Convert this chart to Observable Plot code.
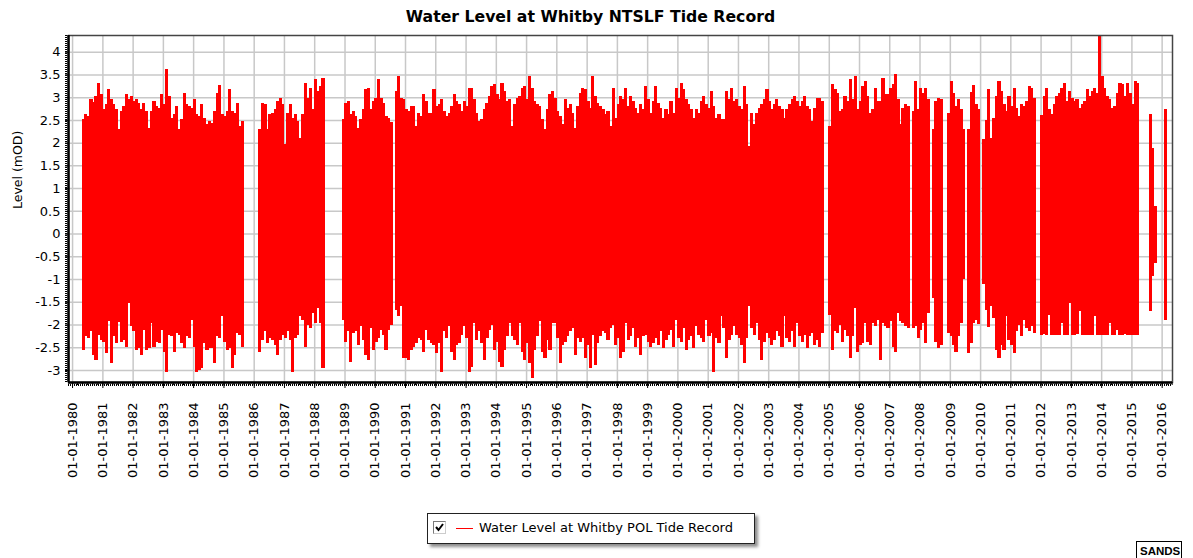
<!DOCTYPE html>
<html><head><meta charset="utf-8">
<script src="https://cdn.jsdelivr.net/npm/d3@7"></script>
<script src="https://cdn.jsdelivr.net/npm/@observablehq/plot@0.6"></script>
<style>
html,body{margin:0;padding:0;background:#fff;}
body{width:1193px;height:558px;position:relative;overflow:hidden;font-family:"DejaVu Sans",sans-serif;}
#title{position:absolute;left:0;top:7px;width:1181px;text-align:center;font:bold 15.7px "DejaVu Sans",sans-serif;color:#000;line-height:20px;}
#chart{position:absolute;left:0;top:30px;}
#legend{position:absolute;left:427px;top:513px;width:326px;height:29px;border:1px solid #222;background:#fff;box-shadow:3px 3px 3px rgba(0,0,0,0.45);}
#legend .cb{position:absolute;left:5px;top:7px;width:13px;height:13px;border:1px solid #7a7a7a;border-right-color:#ccc;border-bottom-color:#ccc;background:#fff;box-sizing:border-box;}
#legend .cb svg{display:block;position:absolute;left:0;top:0;}
#legend .ln{position:absolute;left:28px;top:14px;width:17px;height:0;border-top:1.5px solid #ff0000;}
#legend .tx{position:absolute;left:51px;top:6px;font:13px "DejaVu Sans",sans-serif;color:#000;white-space:nowrap;}
#sands{position:absolute;left:1136px;top:541px;width:46px;height:24px;border:1px solid #000;font:bold 11.5px "Liberation Sans",Arial,sans-serif;padding:3px 0 0 3px;box-sizing:border-box;color:#000;}
</style></head><body>
<div id="title">Water Level at Whitby NTSLF Tide Record</div>
<div id="chart"></div>
<div id="legend"><div class="cb"><svg width="11" height="11" viewBox="0 0 11 11"><path d="M2 5 L4.5 8 L9 2" fill="none" stroke="#000" stroke-width="2"/></svg></div><div class="ln"></div><div class="tx">Water Level at Whitby POL Tide Record</div></div>
<div id="sands">SANDS</div>
<script>
// Axis ticks
const years = [1980,1981,1982,1983,1984,1985,1986,1987,1988,1989,1990,1991,1992,1993,1994,1995,1996,1997,1998,1999,2000,2001,2002,2003,2004,2005,2006,2007,2008,2009,2010,2011,2012,2013,2014,2015,2016];
const yTicks = [-3,-2.5,-2,-1.5,-1,-0.5,0,0.5,1,1.5,2,2.5,3,3.5,4];

// Monthly high / low water level (mOD), per continuous record segment
const segStarts = ["1980-05","1986-03","1988-12","1990-09","2005-01","2007-10","2008-06","2008-12","2009-08","2010-02","2010-05","2012-01","2015-08","2016-02"];

const high1 = [2.53,2.63,2.58,2.96,2.90,3.03,3.31,3.07,2.74,2.85,3.18,2.96,2.85,2.74,2.29,2.70,2.81,3.07,2.96,3.03,2.92,2.96,2.88,2.74,2.88,2.70,2.33,2.70,2.92,2.81,2.77,3.07,2.85,3.63,3.03,2.55,2.62,2.81,2.29,2.51,3.10,2.85,2.80,2.77,2.96,2.63,2.58,2.85,2.55,2.40,2.47,2.44,2.70,3.10,3.26,2.63,2.58,2.70,3.18,2.70,2.66,2.88,2.37,2.48];
const low1 = [-2.56,-2.26,-2.30,-2.15,-2.67,-2.78,-2.23,-2.34,-2.38,-2.63,-1.93,-2.85,-2.26,-2.41,-1.95,-2.38,-2.34,-2.49,-1.53,-2.04,-2.15,-2.56,-2.52,-2.67,-2.12,-2.56,-2.52,-1.97,-2.49,-2.38,-2.41,-2.12,-2.60,-3.04,-2.23,-2.26,-2.60,-2.19,-2.23,-2.41,-2.52,-2.26,-2.30,-1.90,-2.49,-3.04,-3.00,-2.96,-2.41,-2.56,-2.52,-2.52,-2.85,-2.26,-2.30,-1.82,-2.38,-2.56,-2.52,-2.96,-2.67,-2.19,-2.23,-2.49];

const high2 = [2.29,2.88,2.85,2.29,2.63,2.66,2.74,2.92,2.99,2.85,1.96,2.66,2.85,2.55,2.63,2.48,2.11,2.63,3.32,2.99,3.21,2.74,3.40,3.14,3.25,3.43];
const low2 = [-2.60,-2.34,-2.15,-2.41,-2.30,-2.34,-2.45,-2.67,-2.34,-2.23,-2.30,-2.15,-2.34,-3.04,-2.30,-2.23,-1.82,-1.90,-2.49,-2.01,-2.08,-1.75,-1.97,-1.64,-1.97,-2.96];

const high3 = [2.51,2.88,2.92,2.63,2.70,2.59,2.33,2.51,2.74,3.18,3.21,2.74,2.92,2.99,3.40,2.99,2.88,2.59,2.55,2.45];
const low3 = [-1.90,-2.38,-2.15,-2.82,-2.19,-2.15,-2.45,-2.04,-2.34,-2.67,-2.78,-2.08,-2.56,-2.38,-2.30,-2.12,-2.23,-2.56,-2.12,-2.01];

const high4 = [3.14,3.47,2.99,2.96,2.74,2.70,2.81,2.81,2.37,2.66,2.59,3.07,2.92,2.66,2.66,3.18,2.81,2.85,2.96,
  2.70,2.59,2.66, 2.81,3.07,2.92,2.85, 2.70,2.92,2.81,3.21, 3.21,2.96,2.66,2.48, 2.51,2.74,2.88,3.03,
  3.25,3.29,3.07,2.96, 3.32,3.14,2.92,2.96, 2.37,2.85,2.99,3.03, 3.21,3.25,2.96,3.47, 3.21,2.92,2.85,2.81,
  2.51,2.29,2.74,3.07, 3.14,2.99,2.70,2.59, 2.40,2.96,2.77,2.85, 2.66,2.33,2.81,3.10, 3.21,3.18,2.92,2.77,
  3.47,3.03,2.88,2.81, 2.74,2.63,2.70,2.37, 3.21,2.55,2.85,3.03, 2.96,3.21,2.81,3.03, 2.92,2.77,2.66,2.85,
  2.74,3.25,2.96,2.66, 2.92,3.25,2.88,2.77, 2.55,2.74,2.63,2.92, 2.66,3.21,2.99,3.32, 3.18,2.96,2.85,2.74,
  2.55,2.74,2.66,2.92, 3.03,2.85,2.77,3.14, 2.81,2.55,2.62,2.51, 2.51,3.14,2.96,3.21, 2.92,2.96,2.81,2.74,
  3.25,2.85,1.93,2.66, 2.40,2.66,2.77,2.85, 2.96,3.18,2.92,2.74, 2.85,2.96,2.81,2.74, 2.55,2.74,2.85,2.96,
  3.03,2.92,2.81,2.92, 3.03,2.81,2.74, 2.48,2.77,2.99, 2.99,2.92];
const low4 = [-1.68,-1.82,-1.60,-2.74,-2.74,-2.78,-2.56,-2.49,-2.41,-2.30,-2.34,-2.60,-2.12,-2.34,-2.41,-2.45,-2.63,-2.41,-3.04,
  -2.15,-2.30,-2.04, -2.60,-2.78,-2.45,-2.41, -2.23,-2.04,-2.30,-3.04, -2.93,-1.97,-2.34,-2.15, -2.41,-2.78,-2.30,-2.12,
  -2.01,-2.56,-2.38,-2.82, -2.93,-2.56,-2.26,-1.97, -2.26,-2.34,-2.45,-1.97, -2.60,-2.78,-2.41,-2.85, -3.18,-2.56,-2.26,-1.93,
  -2.60,-2.74,-2.34,-2.56, -1.97,-1.97,-2.30,-2.85, -2.45,-2.38,-2.26,-2.15, -2.08,-2.67,-2.30,-2.38, -2.30,-2.74,-2.45,-2.96,
  -2.23,-2.89,-2.41,-2.26, -2.15,-2.19,-2.34,-2.08, -2.01,-2.45,-2.30,-2.74, -2.60,-1.97,-2.34,-2.26, -2.08,-2.49,-2.30,-2.67,
  -2.26,-2.23,-2.38,-2.49, -2.41,-2.30,-2.45,-2.15, -2.52,-2.34,-2.23,-2.12, -2.49,-1.90,-2.30,-2.38, -2.08,-2.56,-2.34,-2.26,
  -2.52,-2.04,-2.23,-2.30, -2.38,-1.90,-2.26,-2.19, -3.04,-2.30,-2.41,-1.82, -2.08,-2.74,-2.34,-2.23, -2.04,-2.23,-2.30,-2.45,
  -2.85,-2.30,-1.60,-2.08, -2.23,-1.97,-2.34,-2.78, -2.38,-2.19,-2.30,-2.45, -2.34,-2.15,-2.26,-2.49, -1.82,-2.30,-2.38,-2.15,
  -2.49,-1.97,-2.26,-2.38, -2.23,-2.52,-2.26, -2.19,-2.45,-2.34, -2.49,-2.19];

const high5 = [2.37,3.29,3.18,3.10,2.70,2.74,3.03,2.92,3.40,2.96,3.47,2.74,2.92,3.25,3.36,3.03,2.66,2.74,3.21,2.92,2.92,3.43,3.07,3.07,3.21,3.29,3.51,2.96,2.40,2.77,2.85,2.81];
const low5 = [-1.79,-2.56,-2.15,-2.19,-2.01,-2.38,-2.12,-2.26,-2.74,-2.26,-1.64,-2.60,-2.45,-2.41,-1.97,-2.38,-2.45,-1.97,-2.04,-1.90,-2.78,-1.97,-2.04,-2.08,-1.93,-2.49,-2.60,-1.75,-1.93,-1.97,-2.04,-2.08];

const high6 = [2.70,3.36,2.74,3.21,3.10,3.21,2.96];
const low6 = [-2.08,-2.04,-2.30,-2.12,-1.97,-2.41,-1.75];
const high7 = [2.29,2.92,2.99,2.96];
const low7 = [-1.42,-2.38,-2.52,-2.45];
const high8 = [2.66,3.36,3.10,2.81,2.96,2.74,2.29];
const low8 = [-2.19,-2.26,-2.45,-2.60,-2.26,-1.97,-1.00];
const high9 = [2.29,3.12,3.26,2.85,2.74];
const low9 = [-2.63,-2.40,-1.97,-1.90,-1.99];
const high10 = [2.07,2.50,3.18];
const low10 = [-1.10,-1.68,-2.05];
const high11 = [2.10,2.55,3.03,3.36,3.14,2.85,2.70,3.03,2.81,3.21,2.77,2.59,2.85,2.81,2.92,3.25,3.21,2.99];
const low11 = [-1.60,-1.86,-2.56,-2.74,-2.45,-2.56,-1.82,-2.34,-2.45,-2.63,-2.15,-2.01,-2.26,-1.90,-2.08,-2.15,-2.04,-2.19];
const high12 = [2.60,3.03,3.21,2.74,2.63,2.85,3.03,3.10,3.21,3.32,2.92,3.14,2.99,2.92,2.96,2.77,2.85,2.92,3.18,3.03,3.14,3.21,3.10,4.35,3.47,3.21,3.03,2.96,2.77,2.81,3.10,3.32,3.29,3.03,3.32,3.10,2.85,3.36,3.32];
const low12 = [-2.24,-2.20,-2.24,-1.79,-2.24,-2.22,-2.24,-2.24,-1.97,-2.24,-2.22,-1.53,-2.24,-2.24,-2.20,-1.71,-2.24,-2.24,-2.22,-2.24,-2.24,-1.82,-2.24,-2.24,-2.24,-2.22,-2.24,-1.97,-2.24,-2.24,-2.12,-2.24,-2.24,-2.20,-2.24,-2.24,-2.22,-2.24,-2.24];
const high13 = [2.62,1.89,0.60];
const low13 = [-1.71,-0.94,-0.65];
const high14 = [2.74];
const low14 = [-1.90];

const highs = [high1,high2,high3,high4,high5,high6,high7,high8,high9,high10,high11,high12,high13,high14];
const lows = [low1,low2,low3,low4,low5,low6,low7,low8,low9,low10,low11,low12,low13,low14];

const rows = [];
segStarts.forEach((s, k) => {
  const [yy, mm] = s.split("-").map(Number);
  const first = new Date(Date.UTC(yy, mm - 1, 1));
  highs[k].forEach((h, i) => {
    rows.push({start: d3.utcMonth.offset(first, i), end: d3.utcMonth.offset(first, i + 1), high: h, low: lows[k][i]});
  });
});

const xDomain = [new Date(Date.UTC(1979, 10, 13)), new Date(Date.UTC(2016, 4, 5))];
const yDomain = [-3.264, 4.367];
const yearDates = years.map(y => new Date(Date.UTC(y, 0, 1)));
const minorDates = d3.utcMonth.every(2).range(xDomain[0], xDomain[1]);

const chart = Plot.plot({
  width: 1193, height: 472,
  marginTop: 5, marginBottom: 120, marginLeft: 68, marginRight: 21,
  x: {type: "utc", domain: xDomain},
  y: {domain: yDomain},
  style: {fontFamily: "'DejaVu Sans', sans-serif", fontSize: "13px", color: "#000", background: "#fff", overflow: "visible"},
  marks: [
    Plot.gridX({ticks: yearDates, stroke: "#c8c8c8", strokeOpacity: 1, strokeWidth: 1.5}),
    Plot.gridY({ticks: yTicks, stroke: "#c8c8c8", strokeOpacity: 1, strokeWidth: 1.5}),
    Plot.rect(rows, {x1: "start", x2: "end", y1: "low", y2: "high", fill: "#ff0000", insetLeft: -0.3, insetRight: -0.3, shapeRendering: "crispEdges"}),
    Plot.frame({stroke: "#444", strokeWidth: 1.5}),
    Plot.ruleY([yDomain[0]], {stroke: "#000", strokeWidth: 2.5}),
    Plot.ruleY([yDomain[0]], {stroke: "#000", strokeWidth: 2, strokeDasharray: "1,1", dy: 2.5}),
    Plot.ruleX([xDomain[0]], {stroke: "#000", strokeWidth: 2.5}),
    Plot.ruleX([xDomain[0]], {stroke: "#000", strokeWidth: 2, strokeDasharray: "1,1", dx: -2.5}),
    Plot.axisX({ticks: minorDates, tickSize: 3, tickFormat: () => "", label: null}),
    Plot.axisX({ticks: yearDates, tickFormat: d => "01-01-" + d.getUTCFullYear(), tickRotate: -90, tickSize: 6, tickPadding: 14, fontSize: 13, label: null}),
    Plot.axisY({ticks: yTicks, tickFormat: d => String(d), tickSize: 3, tickPadding: 5, fontSize: 13, label: null}),
    Plot.text(["Level (mOD)"], {frameAnchor: "left", dx: -51, rotate: -90, fontSize: 12.5, text: d => d})
  ]
});
document.getElementById("chart").appendChild(chart);
</script>
</body></html>
